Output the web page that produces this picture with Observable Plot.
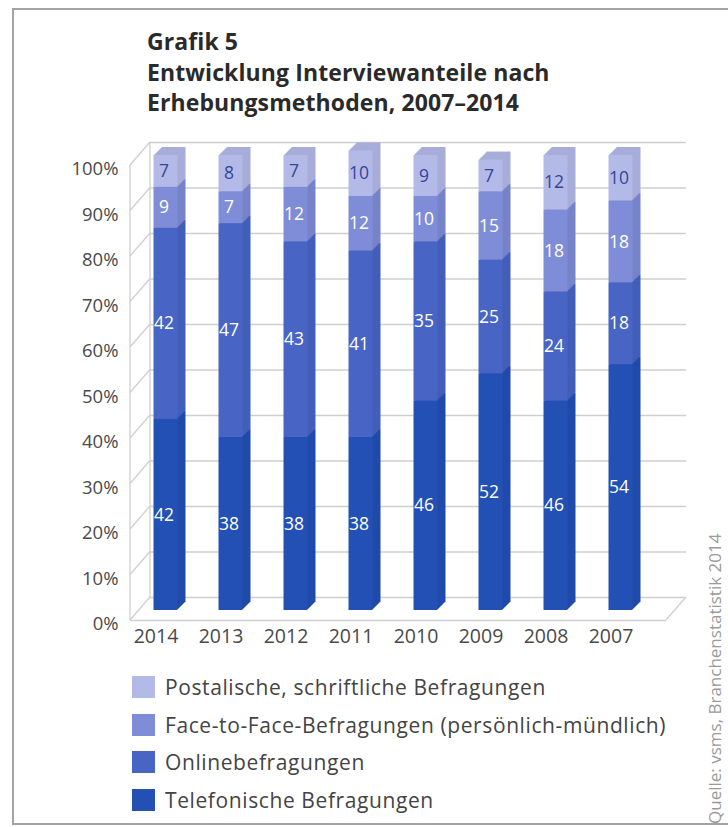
<!DOCTYPE html>
<html><head><meta charset="utf-8">
<script src="https://cdn.jsdelivr.net/npm/d3@7"></script>
<script src="https://cdn.jsdelivr.net/npm/@observablehq/plot@0.6"></script>
<style>
html,body{margin:0;padding:0;background:#fff;width:728px;height:827px;overflow:hidden;font-family:"Open Sans",sans-serif;}
#frame{position:absolute;left:12px;top:8px;width:740px;height:813px;border:2px solid #a3a3a3;}
#title{position:absolute;left:147px;top:26px;font-weight:700;font-size:23px;line-height:30.5px;color:#2a2a2a;letter-spacing:0.1px;}
#chart{position:absolute;left:0;top:120px;}
#legend{position:absolute;left:132px;top:668px;}
.row{display:flex;align-items:center;height:37.7px;}
.sw{width:23px;height:22px;margin-right:10px;}
.lt{font-size:21px;color:#444;letter-spacing:0.6px;}
#source{position:absolute;left:705px;top:824px;transform-origin:left top;transform:rotate(-90deg);font-size:17px;line-height:20px;color:#9a9a9a;white-space:nowrap;}
</style></head>
<body>
<div id="frame"></div>
<div id="title">Grafik 5<br>Entwicklung Interviewanteile nach<br>Erhebungsmethoden, 2007–2014</div>
<div id="chart"></div>
<div id="legend"></div>
<div id="source">Quelle: vsms, Branchenstatistik 2014</div>
<script>
// ---- data ----
const years = ["2014","2013","2012","2011","2010","2009","2008","2007"];
const methods = ["Telefonische Befragungen","Onlinebefragungen","Face-to-Face-Befragungen (persönlich-mündlich)","Postalische, schriftliche Befragungen"];
const telefonisch = [42,38,38,38,46,52,46,54];
const online      = [42,47,43,41,35,25,24,18];
const faceToFace  = [9,7,12,12,10,15,18,18];
const postalisch  = [7,8,7,10,9,7,12,10];
const colors = ["#2250b5","#4865c6","#7f8dd8","#b3bae8"];
const labelColors = ["#ffffff","#ffffff","#ffffff","#34459a"];
const yTicks = [0,10,20,30,40,50,60,70,80,90,100];
const yTickLabels = ["0%","10%","20%","30%","40%","50%","60%","70%","80%","90%","100%"];

const series = [telefonisch, online, faceToFace, postalisch];
const fillOf = Object.fromEntries(methods.map((m,j)=>[m, colors[j]]));
const sideOf = Object.fromEntries(methods.map((m,j)=>[m, d3.color(colors[j]).darker(0.2).formatHex()]));
const labOf = Object.fromEntries(methods.map((m,j)=>[m, labelColors[j]]));
const data = [];
years.forEach((yr,i)=>methods.forEach((m,j)=>data.push({year:yr, method:m, value:series[j][i]})));

const W = 728, H = 535, mL = 130, mR = 62, mT = 35, mB = 45;
const depth = 8, inset = 20.5;
const wallDx = 20, backDy = -13, frontDy = 10;
const grid = "#cfcfcf";

const marks = [
  Plot.ruleY(yTicks, {y: d=>d, dx: wallDx, dy: backDy, stroke: grid, strokeWidth: 1.3}),
  Plot.ruleY([0], {y: d=>d, dy: frontDy, stroke: grid, strokeWidth: 1.3})
];
for (let k = depth; k >= 1; k--) {
  marks.push(Plot.barY(data, Plot.stackY({x:"year", y:"value", z:"method", fill: d=>sideOf[d.method], dx:k, dy:-k, insetLeft:inset, insetRight:inset})));
}
marks.push(Plot.barY(data, Plot.stackY({x:"year", y:"value", z:"method", fill: d=>fillOf[d.method], insetLeft:inset, insetRight:inset})));
marks.push(Plot.text(data, Plot.stackY({x:"year", y:"value", z:"method", text: d=>String(d.value), fill: d=>labOf[d.method], fontSize:17.5, dx:-2, fontFamily:"Open Sans"})));
marks.push(Plot.axisY({ticks: yTicks, tickSize:0, tickPadding:12, tickFormat:(d)=>yTickLabels[yTicks.indexOf(d)], fontSize:18.5, dy:14, fill:"#4a4a4a", label:null}));
marks.push(Plot.axisX({tickSize:0, tickPadding:19, fontSize:19.5, dx:-10, fill:"#4a4a4a", label:null, style:{letterSpacing:"0.4px"}}));

const chart = Plot.plot({
  width: W, height: H,
  marginLeft: mL, marginRight: mR, marginTop: mT, marginBottom: mB,
  style: {background:"transparent", fontFamily:"Open Sans", overflow:"visible"},
  x: {domain: years, range:[131, 654], padding: 0, axis: null},
  y: {domain: [0,100], axis: null},
  color: {type: "identity"},
  marks
});

// 3D wall edges (left wall and floor) through the chart's y scale
const ys = chart.scale("y");
const yf = ys.apply ? (v)=>ys.apply(v) : d3.scaleLinear(ys.domain, ys.range);
const xFront = mL, xBack = mL + wallDx, xFrontR = W - mR, xBackR = W - mR + wallDx;
const g = d3.create("svg:g").attr("stroke", grid).attr("stroke-width", 1.3).attr("fill","none");
yTicks.forEach(v => g.append("line").attr("x1", xFront).attr("y1", yf(v)+frontDy).attr("x2", xBack).attr("y2", yf(v)+backDy));
g.append("line").attr("x1", xFront).attr("y1", yf(0)+frontDy).attr("x2", xFront).attr("y2", yf(100)+frontDy);
g.append("line").attr("x1", xBack).attr("y1", yf(0)+backDy).attr("x2", xBack).attr("y2", yf(100)+backDy);
g.append("line").attr("x1", xFrontR).attr("y1", yf(0)+frontDy).attr("x2", xBackR).attr("y2", yf(0)+backDy);
const firstG = chart.querySelector("g");
chart.insertBefore(g.node(), firstG);
document.getElementById("chart").appendChild(chart);

// legend (top to bottom: reverse stacking order)
const leg = d3.select("#legend");
methods.slice().reverse().forEach(m => {
  const r = leg.append("div").attr("class","row");
  r.append("div").attr("class","sw").style("background", fillOf[m]);
  r.append("div").attr("class","lt").text(m);
});
</script>
</body></html>
